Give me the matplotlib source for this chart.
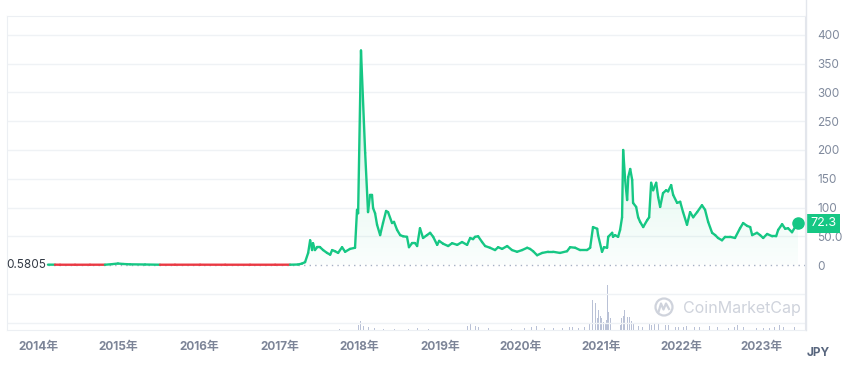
import numpy as np
import pandas as pd
import matplotlib
matplotlib.use("Agg")
import matplotlib.pyplot as plt
import matplotlib.dates as mdates
import matplotlib.transforms as mtransforms
from matplotlib.collections import LineCollection
from matplotlib.colors import LinearSegmentedColormap
from matplotlib.patches import Circle
from matplotlib.lines import Line2D

plt.rcParams['font.family'] = ['Inter', 'Noto Sans CJK JP', 'DejaVu Sans']

# price in JPY
price_dates = [
    "2014-02-15", "2014-03-19", "2014-04-11", "2014-06-18", "2014-08-25", "2014-11-01",
    "2014-12-03", "2014-12-30", "2015-01-22", "2015-02-23", "2015-05-02", "2015-07-09",
    "2015-09-15", "2016-01-07", "2016-04-30", "2016-08-21", "2016-12-13", "2017-02-19",
    "2017-03-27", "2017-04-14", "2017-04-28", "2017-05-12", "2017-05-21", "2017-05-30",
    "2017-06-03", "2017-06-12", "2017-06-22", "2017-07-05", "2017-07-19", "2017-08-06",
    "2017-08-20", "2017-08-29", "2017-09-11", "2017-09-25", "2017-10-13", "2017-10-27",
    "2017-11-18", "2017-12-11", "2017-12-20", "2017-12-25", "2018-01-07", "2018-01-26",
    "2018-02-08", "2018-02-17", "2018-02-26", "2018-03-03", "2018-03-12", "2018-03-21",
    "2018-04-04", "2018-04-17", "2018-05-01", "2018-05-10", "2018-05-28", "2018-06-06",
    "2018-06-20", "2018-07-04", "2018-07-17", "2018-08-04", "2018-08-13", "2018-08-27",
    "2018-09-10", "2018-09-19", "2018-10-02", "2018-10-16", "2018-11-03", "2018-11-17",
    "2018-12-01", "2018-12-19", "2018-12-28", "2019-01-15", "2019-02-07", "2019-02-25",
    "2019-03-20", "2019-04-11", "2019-05-04", "2019-05-18", "2019-05-31", "2019-06-09",
    "2019-06-23", "2019-07-11", "2019-07-25", "2019-08-16", "2019-09-08", "2019-09-22",
    "2019-10-10", "2019-11-02", "2019-11-24", "2019-12-17", "2020-01-09", "2020-02-01",
    "2020-02-14", "2020-02-28", "2020-03-17", "2020-04-09", "2020-05-06", "2020-05-29",
    "2020-06-29", "2020-07-31", "2020-08-14", "2020-09-06", "2020-09-28", "2020-10-30",
    "2020-11-13", "2020-11-26", "2020-12-15", "2020-12-19", "2021-01-06", "2021-01-15",
    "2021-01-29", "2021-02-03", "2021-02-21", "2021-02-25", "2021-03-06", "2021-03-20",
    "2021-03-29", "2021-04-07", "2021-04-12", "2021-04-21", "2021-04-30", "2021-05-05",
    "2021-05-14", "2021-05-23", "2021-05-27", "2021-06-10", "2021-06-19", "2021-06-28",
    "2021-07-12", "2021-07-30", "2021-08-08", "2021-08-17", "2021-08-26", "2021-09-09",
    "2021-09-18", "2021-09-27", "2021-10-10", "2021-10-24", "2021-11-02", "2021-11-16",
    "2021-11-25", "2021-12-13", "2021-12-27", "2022-01-09", "2022-01-27", "2022-02-10",
    "2022-02-24", "2022-03-14", "2022-04-05", "2022-04-19", "2022-05-03", "2022-05-21",
    "2022-06-04", "2022-06-17", "2022-07-05", "2022-07-19", "2022-08-11", "2022-09-02",
    "2022-09-25", "2022-10-09", "2022-10-27", "2022-11-10", "2022-11-19", "2022-12-11",
    "2022-12-25", "2023-01-08", "2023-01-26", "2023-02-18", "2023-03-08", "2023-03-17",
    "2023-04-04", "2023-04-18", "2023-05-01", "2023-05-19", "2023-06-02", "2023-06-15",
]
price_values = [
    0.62, 0.60, 0.50, 0.48, 0.50, 0.52,
    1.5, 2.6, 1.8, 1.2, 0.9, 0.5,
    0.52, 0.55, 0.50, 0.48, 0.50, 0.55,
    0.9, 2.5, 5, 21, 43, 26,
    38, 26, 31, 31, 26, 21,
    18, 26, 24, 21, 31, 23,
    28, 30, 96, 90, 373, 195,
    92, 122, 122, 99, 90, 70,
    52, 73, 94, 92, 73, 75,
    61, 52, 50, 49, 31, 38,
    38, 33, 64, 47, 52, 56,
    49, 35, 42, 37, 33, 38,
    35, 40, 35, 47, 45, 49,
    50, 40, 33, 30, 26, 31,
    28, 33, 26, 23, 26, 30,
    28, 24, 17, 21, 23, 23,
    21, 24, 31, 30, 26, 26,
    30, 66, 63, 52, 23, 31,
    30, 49, 56, 49, 52, 49,
    61, 83, 200, 148, 113, 153,
    167, 148, 108, 101, 83, 75,
    66, 78, 83, 143, 130, 143,
    118, 101, 125, 130, 128, 139,
    122, 108, 110, 92, 70, 92,
    83, 92, 104, 96, 75, 56,
    52, 47, 43, 49, 49, 47,
    64, 73, 68, 66, 52, 56,
    52, 47, 54, 50, 50, 61,
    71, 63, 64, 57, 66, 72.3,
]

# trading volume (relative units)
vol_dates = [
    "2014-06-01", "2015-01-01", "2016-01-01", "2017-05-20", "2017-10-01", "2017-12-15",
    "2017-12-28", "2018-01-05", "2018-01-12", "2018-01-20", "2018-01-30", "2018-02-10",
    "2018-03-10", "2018-04-20", "2018-06-10", "2018-08-10", "2018-09-21", "2018-11-10",
    "2019-01-10", "2019-03-10", "2019-04-20", "2019-05-05", "2019-05-18", "2019-06-10",
    "2019-06-25", "2019-08-10", "2019-10-01", "2019-11-20", "2020-01-20", "2020-02-20",
    "2020-03-15", "2020-04-20", "2020-05-30", "2020-07-10", "2020-08-10", "2020-08-25",
    "2020-09-20", "2020-10-20", "2020-11-10", "2020-11-24", "2020-12-01", "2020-12-08",
    "2020-12-15", "2020-12-22", "2020-12-29", "2021-01-05", "2021-01-12", "2021-01-20",
    "2021-01-27", "2021-02-01", "2021-02-06", "2021-02-12", "2021-02-20", "2021-03-01",
    "2021-03-10", "2021-03-20", "2021-03-30", "2021-04-06", "2021-04-12", "2021-04-18",
    "2021-04-25", "2021-05-03", "2021-05-12", "2021-05-20", "2021-05-28", "2021-06-05",
    "2021-06-20", "2021-07-10", "2021-07-25", "2021-08-10", "2021-08-20", "2021-09-01",
    "2021-09-08", "2021-09-20", "2021-10-05", "2021-10-20", "2021-11-05", "2021-11-20",
    "2021-12-05", "2021-12-20", "2022-01-10", "2022-01-25", "2022-02-10", "2022-03-01",
    "2022-03-25", "2022-04-10", "2022-05-10", "2022-05-25", "2022-06-15", "2022-07-10",
    "2022-08-05", "2022-09-01", "2022-09-15", "2022-09-25", "2022-10-10", "2022-11-09",
    "2022-12-10", "2023-01-10", "2023-02-05", "2023-03-01", "2023-03-22", "2023-04-10",
    "2023-05-05", "2023-06-01",
]
vol_values = [
    0.5, 0.5, 0.5, 2, 1.5, 3,
    5, 9, 6, 4, 7, 3,
    2, 1.5, 1, 1, 2, 1.5,
    1, 1.5, 2, 4, 7, 4,
    3, 2, 2, 1.5, 2, 3,
    4, 2.5, 2, 2, 3, 3,
    2.5, 3, 6, 30, 18, 27,
    12, 20, 14, 12, 8, 7,
    10, 45, 18, 12, 8, 8,
    6, 5, 5, 12, 14, 20,
    18, 13, 13, 9, 7, 4,
    4, 3, 4, 6, 5, 7,
    10, 7, 5, 5, 5, 4,
    3, 3, 3, 4, 3, 3,
    3, 3, 4, 3, 3, 2,
    2, 3, 5, 8, 3, 3,
    2, 2, 2, 3, 5, 3,
    2, 3,
]

base_price = 0.5805
last_label = "72.3"
year_ticks = list(range(2014, 2024))
year_labels = [f"{y}年" for y in year_ticks]
ytick_values = [0, 50, 100, 150, 200, 250, 300, 350, 400]
ytick_labels = ["0", "50.0", "100", "150", "200", "250", "300", "350", "400"]

GREEN = "#16c784"
RED = "#ea3943"
GRID = "#eff2f5"

fig = plt.figure(figsize=(8.58, 3.77), dpi=100)
ax = fig.add_axes([7 / 858, 47 / 377, 798 / 858, 314 / 377])
axv = ax.twinx()
ax.set_zorder(axv.get_zorder() + 1)
ax.patch.set_visible(False)

xs = mdates.date2num(pd.to_datetime(price_dates))
ys = np.array(price_values)
xlim = (mdates.date2num(pd.Timestamp("2013-08-13")), mdates.date2num(pd.Timestamp("2023-07-17")))
ylim = (-113, 433)

# volume band
vx = mdates.date2num(pd.to_datetime(vol_dates))
axv.bar(vx, vol_values, width=3.5, color="#b9c1d6", linewidth=0)
axv.set_ylim(0, max(vol_values) / 0.143)
axv.set_yticks([])
for s in axv.spines.values():
    s.set_visible(False)

# grid lines
for g in [-100, -50, 50, 100, 150, 200, 250, 300, 350, 400]:
    ax.axhline(g, color=GRID, lw=1, zorder=0)

# gradient fill under the line
poly = ax.fill_between(xs, base_price, ys, color="none", lw=0)
cmap = LinearSegmentedColormap.from_list(
    "fade", [(0.086, 0.78, 0.52, 0.02), (0.086, 0.78, 0.52, 0.22)])
grad = np.linspace(0, 1, 256).reshape(-1, 1)
img = ax.imshow(grad, extent=[xs[0], xs[-1], 0, 380], origin="lower",
                cmap=cmap, aspect="auto", zorder=1)
img.set_clip_path(poly.get_paths()[0], transform=ax.transData)

# baseline
ax.hlines(base_price, xs[0], xlim[1], colors="#a6b0c3", linestyles=(0, (1, 3)), lw=1, zorder=2)
ax.annotate(f"{base_price}", (xs[0], base_price), xytext=(-1, 0), textcoords="offset points",
            ha="right", va="center", fontsize=8.5, color="#333a45")

# price line coloured above/below the start price
pts = np.column_stack([xs, ys])
segs = np.stack([pts[:-1], pts[1:]], axis=1)
cols = [GREEN if (a + b) / 2 >= base_price else RED for a, b in zip(ys[:-1], ys[1:])]
ax.add_collection(LineCollection(segs, colors=cols, linewidths=1.7, zorder=3,
                                 capstyle="round", joinstyle="round"))
ax.plot(xs[-1], ys[-1], "o", ms=8, color=GREEN, zorder=4)

ax.set_xlim(*xlim)
ax.set_ylim(*ylim)
axv.set_xlim(*xlim)

# axes styling
ax.yaxis.tick_right()
ax.set_yticks(ytick_values, ytick_labels)
ax.tick_params(axis="y", length=0, pad=9, labelsize=8.5, labelcolor="#808a9d")
ax.set_xticks(mdates.date2num(pd.to_datetime([f"{y}-01-01" for y in year_ticks])), year_labels)
ax.tick_params(axis="x", length=0, pad=8, labelsize=8.5, labelcolor="#7d8598")
for lbl in ax.get_xticklabels():
    lbl.set_fontweight("bold")
for side in ["left", "top", "bottom"]:
    ax.spines[side].set_color("#eceff3")
ax.spines["right"].set_color("#e3e6ec")

# current price tag
tr = mtransforms.blended_transform_factory(ax.transAxes, ax.transData)
ax.text(1.0 + 5 / 798, ys[-1], last_label, transform=tr, ha="left", va="center",
        fontsize=9, color="white", clip_on=False,
        bbox=dict(boxstyle="square,pad=0.3", fc=GREEN, ec="none"))

# right separator line above the plot
fig.add_artist(Line2D([805.5 / 858, 805.5 / 858], [1 - 330 / 377, 1.0],
                      color="#e3e6ec", lw=1, transform=fig.transFigure))

fig.text(818 / 858, 1 - 353 / 377, "JPY", ha="center", va="center",
         fontsize=8.5, fontweight="bold", color="#58667e")

# watermark
wm = "#cfd3dc"
fig.add_artist(Circle((6.64, 0.70), 0.085, transform=fig.dpi_scale_trans,
                      fill=False, ec=wm, lw=1.6))
fig.add_artist(Line2D([6.585, 6.61, 6.635, 6.66, 6.69], [0.65, 0.735, 0.675, 0.735, 0.68],
                      transform=fig.dpi_scale_trans, color=wm, lw=1.6))
fig.text(683 / 858, 1 - 308 / 377, "CoinMarketCap", ha="left", va="center",
         fontsize=11.5, color=wm)

fig.savefig("out.png", dpi=100)
